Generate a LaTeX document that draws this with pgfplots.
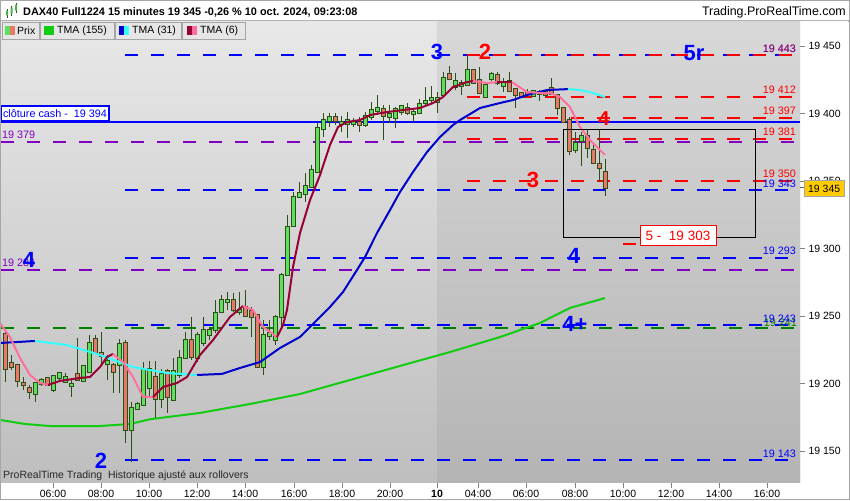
\documentclass[border=0pt]{standalone}
\usepackage{fontspec}
\setmainfont{Liberation Sans}
\usepackage{pgfplots}
\usepackage{pgfplotstable}
\pgfplotsset{compat=1.18}

\definecolor{cgreen}{HTML}{5EE05E}
\definecolor{cred}{HTML}{E8786A}
\definecolor{wickc}{HTML}{2B4F14}
\definecolor{lvblue}{HTML}{0000FF}
\definecolor{lvred}{HTML}{FF0000}
\definecolor{lvpurple}{HTML}{8000C0}
\definecolor{lvgreen}{HTML}{008000}
\definecolor{tmagreen}{HTML}{11CC11}
\definecolor{tmablue}{HTML}{0000CC}
\definecolor{tmacyan}{HTML}{33FFFF}
\definecolor{tmadark}{HTML}{990033}
\definecolor{tmapink}{HTML}{FF6F9C}
\definecolor{bgltop}{HTML}{E8E8E8}
\definecolor{bglbot}{HTML}{BEBEBE}
\definecolor{bgrtop}{HTML}{D8D8D8}
\definecolor{bgrbot}{HTML}{B4B4B4}
\definecolor{tagc}{HTML}{FFCC00}
\definecolor{legbg}{HTML}{E6E6E6}

% 15 minute bars: index, open, high, low, close
\pgfplotstableread{
i O H L C
0 19236.7 19238.2 19201.1 19210.8
1 19215.2 19221.1 19210.0 19212.2
2 19213.7 19214.0 19197.4 19201.9
3 19200.4 19204.8 19195.2 19198.9
4 19196.7 19198.9 19188.5 19193.7
5 19192.2 19201.1 19186.3 19200.4
6 19199.6 19204.1 19198.2 19202.6
7 19204.1 19204.8 19198.2 19198.9
8 19195.2 19206.3 19193.7 19205.6
9 19204.1 19208.5 19202.6 19207.8
10 19201.1 19207.8 19200.4 19204.8
11 19198.2 19202.6 19190.0 19199.6
12 19207.1 19233.7 19202.6 19202.6
13 19201.9 19213.7 19201.1 19213.0
14 19208.5 19235.9 19208.5 19230.0
15 19233.0 19235.9 19222.6 19222.6
16 19222.6 19238.2 19213.7 19220.4
17 19214.5 19221.1 19202.6 19216.7
18 19213.7 19215.2 19193.0 19208.5
19 19213.7 19233.0 19193.0 19229.3
20 19230.0 19232.2 19155.9 19165.6
21 19165.6 19186.3 19141.9 19181.9
22 19181.1 19186.3 19180.4 19184.8
23 19184.1 19215.9 19183.3 19210.8
24 19196.7 19216.7 19190.0 19210.8
25 19204.8 19216.7 19174.5 19188.5
26 19188.5 19210.8 19181.9 19207.1
27 19209.3 19210.8 19178.2 19190.0
28 19187.8 19218.9 19187.8 19209.3
29 19206.3 19224.8 19204.1 19218.9
30 19218.9 19238.2 19218.9 19232.2
31 19232.2 19249.3 19217.4 19219.6
32 19218.9 19238.2 19215.9 19236.0
33 19230.0 19249.3 19227.8 19239.6
34 19235.9 19241.9 19232.2 19239.6
35 19239.6 19261.9 19237.4 19252.2
36 19253.0 19265.6 19252.2 19261.9
37 19260.4 19267.8 19254.5 19261.9
38 19261.9 19267.0 19253.0 19254.5
39 19253.0 19267.8 19250.8 19254.5
40 19256.7 19269.3 19249.3 19250.0
41 19253.7 19256.7 19234.5 19249.3
42 19250.8 19250.8 19211.5 19212.2
43 19212.2 19247.0 19206.3 19235.9
44 19235.2 19247.0 19232.0 19237.4
45 19232.2 19250.8 19228.5 19249.3
46 19249.3 19281.9 19239.6 19280.4
47 19280.4 19324.8 19280.4 19315.9
48 19316.7 19341.9 19316.7 19338.2
49 19338.2 19349.3 19337.4 19341.1
50 19340.4 19355.9 19334.5 19346.3
51 19345.6 19361.9 19344.8 19358.1
52 19356.7 19393.0 19356.7 19389.3
53 19388.5 19400.4 19382.6 19395.2
54 19394.4 19400.4 19390.0 19397.4
55 19397.4 19400.4 19391.5 19394.4
56 19392.2 19398.0 19386.0 19393.7
57 19392.2 19401.1 19382.0 19395.2
58 19392.2 19396.7 19390.0 19393.7
59 19393.7 19397.4 19386.3 19391.5
60 19391.5 19401.1 19390.0 19398.1
61 19397.4 19408.5 19395.2 19402.6
62 19401.9 19413.7 19398.9 19404.1
63 19403.3 19406.3 19380.4 19398.1
64 19397.4 19406.3 19393.0 19399.6
65 19396.7 19404.8 19389.3 19403.3
66 19401.1 19406.3 19398.9 19405.6
67 19404.1 19407.8 19398.9 19400.4
68 19399.6 19404.1 19393.7 19401.1
69 19400.4 19410.7 19399.6 19407.1
70 19407.8 19419.6 19406.3 19409.3
71 19410.0 19420.4 19407.8 19411.5
72 19408.5 19415.9 19400.4 19411.5
73 19413.7 19430.7 19413.7 19426.3
74 19429.3 19435.2 19424.8 19425.6
75 19419.6 19430.0 19417.4 19424.1
76 19420.4 19424.8 19413.7 19422.6
77 19421.1 19442.6 19421.1 19432.2
78 19432.2 19432.2 19421.9 19422.6
79 19424.8 19434.4 19415.2 19415.2
80 19412.2 19422.6 19411.5 19421.1
81 19425.6 19430.7 19424.1 19429.3
82 19428.5 19430.7 19421.1 19422.6
83 19420.4 19426.3 19415.9 19423.3
84 19424.1 19430.7 19415.9 19416.7
85 19418.2 19418.2 19404.1 19413.7
86 19415.2 19415.9 19411.5 19412.2
87 19415.9 19418.2 19412.2 19414.5
88 19412.9 19417.4 19412.2 19416.7
89 19414.5 19417.4 19409.3 19415.9
90 19415.9 19417.4 19412.2 19413.7
91 19418.9 19426.3 19413.7 19414.5
92 19413.7 19413.7 19398.9 19404.1
93 19404.1 19404.1 19393.0 19393.7
94 19395.2 19397.4 19369.3 19372.2
95 19372.9 19386.3 19370.7 19378.2
96 19379.6 19386.3 19361.1 19383.3
97 19383.3 19387.8 19367.0 19374.5
98 19373.0 19376.7 19362.6 19363.3
99 19362.6 19387.8 19349.3 19359.6
100 19356.7 19366.4 19339.0 19345.0
}\candles

\pgfplotsset{
  lvl/.style={forget plot, line width=2pt, dash pattern=on 13pt off 13pt},
  ma/.style={forget plot, line width=2pt, line join=round, mark=none},
  bars/.style={forget plot, draw=none, mark=none,
    error bars/y dir=both, error bars/y explicit, error bars/error mark=none},
  barcol/.style 2 args={error bars/error bar style={draw=#1, line width=#2}},
}
\tikzset{
  lvlabel/.style={anchor=base east, inner sep=0pt, font=\fontsize{10.8}{12}\selectfont},
  big/.style={font=\bfseries\fontsize{22}{22}\selectfont, inner sep=0pt},
}

\begin{document}
\begin{tikzpicture}
\useasboundingbox (0pt,-17.3pt) rectangle (850pt,482.7pt);
\fill[white] (0pt,-17.3pt) rectangle (850pt,482.7pt);

\begin{axis}[
  at={(0pt,0pt)}, anchor=south west,
  scale only axis, width=800pt, height=462.7pt,
  xmin=0, xmax=800, ymin=19126.5, ymax=19469.3,
  axis x line=bottom, axis y line=right,
  axis line style={-, draw=none},
  axis background/.style={top color=bgltop, bottom color=bglbot},
  tick align=outside, major tick length=5pt,
  tick style={draw=gray, line width=0.8pt},
  xtick={53,101,149,197,245,294,342,390,437,478,526,575,623,671,719,767},
  xticklabels={06:00,08:00,10:00,12:00,14:00,16:00,18:00,20:00,\textbf{10},04:00,06:00,08:00,10:00,12:00,14:00,16:00},
  ytick={19150,19200,19250,19300,19350,19400,19450},
  yticklabels={19 150,19 200,19 250,19 300,19 350,19 400,19 450},
  ticklabel style={font=\fontsize{10.5}{12}\selectfont, text=black},
  xticklabel style={yshift=1.5pt},
  minor tick num=0,
]
% darker session background
\addplot[forget plot, draw=none, top color=bgrtop, bottom color=bgrbot]
  coordinates {(437,19126.5) (437,19469.3) (800,19469.3) (800,19126.5)} -- cycle;

% levels
\addplot[lvl, lvpurple] coordinates {(1,19379) (794,19379)};
\addplot[lvl, lvpurple] coordinates {(1,19284) (794,19284)};
\addplot[lvl, lvgreen] coordinates {(1,19241) (794,19241)};
\addplot[lvl, lvblue] coordinates {(125,19443) (792,19443)};
\addplot[lvl, lvblue] coordinates {(125,19343) (792,19343)};
\addplot[lvl, lvblue] coordinates {(125,19293) (792,19293)};
\addplot[lvl, lvblue] coordinates {(125,19243) (792,19243)};
\addplot[lvl, lvblue] coordinates {(125,19143) (792,19143)};
\addplot[lvl, lvred] coordinates {(467,19443) (792,19443)};
\addplot[lvl, lvred] coordinates {(467,19412) (792,19412)};
\addplot[lvl, lvred] coordinates {(467,19397) (792,19397)};
\addplot[lvl, lvred] coordinates {(467,19381) (792,19381)};
\addplot[lvl, lvred] coordinates {(467,19350) (792,19350)};
\addplot[lvl, lvred] coordinates {(623,19303) (720,19303)};
\addplot[forget plot, lvblue, line width=2pt] coordinates {(0,19394) (800,19394)};

% TMA (155)
\addplot[ma, tmagreen] coordinates {(0,19173.0) (25,19170.0) (50,19168.5) (100,19168.5) (130,19170.0) (150,19173.5) (200,19178.2) (250,19184.8) (300,19192.2) (350,19202.6) (400,19213.0) (450,19223.3) (500,19234.4) (540,19244.8) (570,19256.0) (605,19263.3)};

% candles: wicks, body outline, body fill
\addplot[bars, barcol={wickc}{1pt}]
  table[x expr=5+6*\thisrow{i}, y expr=(\thisrow{H}+\thisrow{L})/2, y error expr=(\thisrow{H}-\thisrow{L})/2] {\candles};
\addplot[bars, barcol={wickc}{5pt}]
  table[x expr=5+6*\thisrow{i}, y expr=(\thisrow{O}+\thisrow{C})/2, y error expr=abs(\thisrow{C}-\thisrow{O})/2+0.8] {\candles};
\addplot[bars, barcol={cgreen}{3pt}, restrict expr to domain={\thisrow{C}-\thisrow{O}}{0:1000}]
  table[x expr=5+6*\thisrow{i}, y expr=(\thisrow{O}+\thisrow{C})/2, y error expr=abs(\thisrow{C}-\thisrow{O})/2] {\candles};
\addplot[bars, barcol={cred}{3pt}, restrict expr to domain={\thisrow{C}-\thisrow{O}}{-1000:-0.01}]
  table[x expr=5+6*\thisrow{i}, y expr=(\thisrow{O}+\thisrow{C})/2, y error expr=abs(\thisrow{C}-\thisrow{O})/2] {\candles};

% TMA (31)
\addplot[ma, tmablue] coordinates {(0,19230.0) (35,19231.5)};
\addplot[ma, tmacyan] coordinates {(35,19231.5) (67,19228.5) (100,19221.1) (133,19212.2) (150,19210.0) (167,19207.8) (197,19206.3)};
\addplot[ma, tmablue] coordinates {(197,19206.3) (222,19207.1) (240,19211.5) (260,19215.9) (280,19226.3) (300,19234.5) (310,19241.9) (330,19256.7) (343,19267.8) (357,19284.1) (365,19293.7) (377,19311.5) (390,19328.5) (400,19341.9) (413,19356.7) (427,19371.5) (440,19382.6) (453,19391.5) (460,19395.2) (470,19399.6) (480,19404.1) (500,19407.8) (513,19410.0) (527,19413.7) (547,19417.4) (568,19418.1)};
\addplot[ma, tmacyan] coordinates {(568,19418.1) (580,19417.4) (590,19415.9) (605,19412.2)};

% TMA (6)
\addplot[ma, tmapink] coordinates {(0,19244.8) (10,19234.4) (20,19218.9) (30,19206.3) (40,19200.4) (48,19198.9)};
\addplot[ma, tmadark] coordinates {(48,19198.9) (60,19201.9) (80,19204.1) (90,19204.8) (100,19212.2) (107,19219.6) (113,19221.9)};
\addplot[ma, tmapink] coordinates {(113,19221.9) (123,19215.9) (133,19204.8) (143,19190.0) (153,19190.0)};
\addplot[ma, tmadark] coordinates {(153,19190.0) (163,19197.4) (177,19200.4) (187,19204.8) (200,19221.1) (213,19232.2) (230,19249.3) (243,19257.4)};
\addplot[ma, tmapink] coordinates {(243,19257.4) (253,19254.4) (263,19241.9) (277,19234.4)};
\addplot[ma, tmadark] coordinates {(277,19234.4) (283,19243.3) (287,19254.5) (293,19286.3) (300,19311.5) (310,19335.9) (320,19354.4) (330,19376.7) (338,19390.0) (347,19393.7) (360,19395.2) (370,19398.9) (387,19401.1) (403,19402.6) (420,19404.1) (433,19407.8) (443,19412.2) (453,19419.6) (467,19423.3) (473,19424.1)};
\addplot[ma, tmapink] coordinates {(473,19424.1) (487,19422.6) (497,19423.3)};
\addplot[ma, tmadark] coordinates {(497,19423.3) (512,19423.3)};
\addplot[ma, tmapink] coordinates {(512,19423.3) (527,19415.9) (540,19415.2) (550,19415.2) (560,19412.2) (570,19404.8) (580,19390.0) (590,19380.4) (605,19369.3)};

% box and annotations
\draw[black, line width=1pt] (axis cs:563,19388.5) rectangle (axis cs:755,19307.8);
\node[draw=lvred, fill=white, line width=1pt, text=lvred, font=\fontsize{13.5}{14}\selectfont,
  minimum width=76pt, minimum height=20pt, inner sep=1pt] at (axis cs:678,19309.3) {5 -\ \ 19 303};
\node[draw=lvblue, fill=white, line width=1.2pt, text=lvblue, anchor=west, inner sep=2pt,
  minimum height=15pt, font=\fontsize{10.8}{12}\selectfont] at (axis cs:0.5,19400) {clôture cash -\ \ 19 394};

\node[lvlabel, text=lvred] at (axis cs:796,19445.5) {19 443};
\node[lvlabel, text=lvblue, opacity=0.6] at (axis cs:796,19445.5) {19 443};
\node[lvlabel, text=lvred] at (axis cs:796,19414.5) {19 412};
\node[lvlabel, text=lvred] at (axis cs:796,19399.5) {19 397};
\node[lvlabel, text=lvred] at (axis cs:796,19383.5) {19 381};
\node[lvlabel, text=lvred] at (axis cs:796,19352.5) {19 350};
\node[lvlabel, text=lvblue] at (axis cs:796,19345.5) {19 343};
\node[lvlabel, text=lvblue] at (axis cs:796,19295.5) {19 293};
\node[lvlabel, text=lvgreen] at (axis cs:797,19242.5) {19 241};
\node[lvlabel, text=lvblue] at (axis cs:796,19245.5) {19 243};
\node[lvlabel, text=lvblue] at (axis cs:796,19145.5) {19 143};
\node[lvlabel, anchor=base west, text=lvpurple] at (axis cs:2,19381.5) {19 379};
\node[lvlabel, anchor=base west, text=lvpurple] at (axis cs:2,19286.5) {19 284};

\node[big, text=lvblue] at (axis cs:437,19445.9) {3};
\node[big, text=lvred] at (axis cs:485,19445.9) {2};
\node[big, text=lvblue] at (axis cs:694,19444.8) {5r};
\node[big, text=lvred, font=\bfseries\fontsize{20}{20}\selectfont] at (axis cs:604,19396.3) {4};
\node[big, text=lvred] at (axis cs:533,19351.1) {3};
\node[big, text=lvblue] at (axis cs:574,19294.8) {4};
\node[big, text=lvblue] at (axis cs:575,19244.1) {4+};
\node[big, text=lvblue] at (axis cs:29,19291.9) {4};
\node[big, text=lvblue] at (axis cs:101,19143.0) {2};
\end{axis}

% header row
\fill[white] (0pt,462.7pt) rectangle (850pt,482.7pt);
\draw[gray!60] (0pt,462.2pt) -- (850pt,462.2pt);
\draw[wickc, line width=0.8pt] (7pt,465pt) -- (7pt,474pt) (11.5pt,467pt) -- (11.5pt,477pt) (16pt,470pt) -- (16pt,480pt);
\fill[cgreen!80!black] (6pt,467pt) rectangle (8pt,472pt) (10.5pt,469pt) rectangle (12.5pt,475pt) (15pt,472pt) rectangle (17pt,478pt);
\node[anchor=west, inner sep=0pt, font=\bfseries\fontsize{10.9}{13}\selectfont] at (23pt,470.5pt)
  {DAX40 Full1224 15 minutes 19 345 -0,26 \% 10 oct. 2024, 09:23:08};
\node[anchor=east, inner sep=0pt, font=\fontsize{12.4}{14}\selectfont] at (846pt,470.2pt) {Trading.ProRealTime.com};

% legend row
\foreach \a/\b in {2/39,40/114,115/181,182/245}
  \draw[fill=legbg, draw=gray!70] (\a pt,443.7pt) rectangle (\b pt,460.7pt);
\fill[cgreen] (5pt,447.7pt) rectangle (10pt,456.7pt);
\fill[cred] (10pt,447.7pt) rectangle (15pt,456.7pt);
\fill[tmagreen] (44pt,447.7pt) rectangle (54pt,456.7pt);
\fill[tmablue] (119pt,447.7pt) rectangle (124pt,456.7pt);
\fill[tmacyan] (124pt,447.7pt) rectangle (129pt,456.7pt);
\fill[tmadark] (187pt,447.7pt) rectangle (192pt,456.7pt);
\fill[tmapink] (192pt,447.7pt) rectangle (197pt,456.7pt);
\begin{scope}[every node/.style={anchor=west, inner sep=0pt, font=\fontsize{10.5}{12}\selectfont}]
\node at (17pt,452.2pt) {Prix};
\node at (57pt,452.2pt) {TMA (155)};
\node at (132pt,452.2pt) {TMA (31)};
\node at (200pt,452.2pt) {TMA (6)};
\node[text=black!85] at (3pt,6.7pt) {ProRealTime Trading\ \ Historique ajusté aux rollovers};
\end{scope}

% current price tag
\draw[gray!80!black, line width=0.8pt] (800pt,294.9pt) -- (805pt,294.9pt);
\node[fill=tagc, draw=gray!70, inner sep=1pt, minimum width=40pt, minimum height=16pt, anchor=west,
  font=\fontsize{10.5}{12}\selectfont] at (804pt,294.2pt) {19 345};

\draw[gray!70, line width=1pt] (0.5pt,-16.8pt) rectangle (849.5pt,482.2pt);
\end{tikzpicture}
\end{document}
